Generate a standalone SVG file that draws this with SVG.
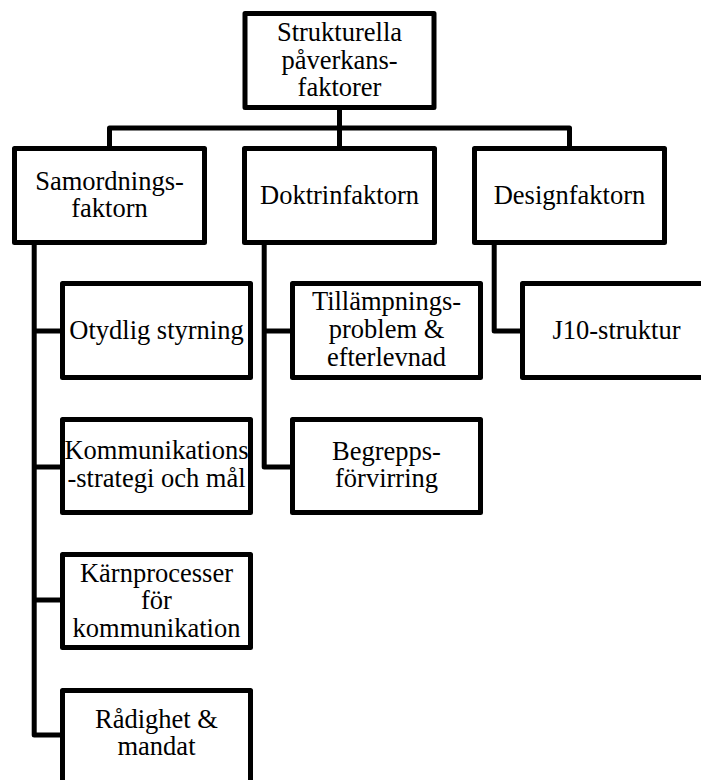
<svg xmlns="http://www.w3.org/2000/svg" width="701" height="780" viewBox="0 0 701 780">
<style>
.box{fill:#fff;stroke:#000;stroke-width:5;stroke-linejoin:round}
.ln{fill:none;stroke:#000;stroke-width:5;stroke-linejoin:round}
text{font-family:"Liberation Serif","Times New Roman",serif;font-size:26.5px;fill:#000;text-anchor:middle}
</style>
<rect width="701" height="780" fill="#fff"/>
<g id="connectors">
<path class="ln" d="M339.5 110 V148.5"/>
<path class="ln" d="M109.5 148.5 V128 H569.5 V148.5"/>
<path class="ln" d="M34.2 243 V735 H62.5"/>
<path class="ln" d="M34.2 331 H62.5"/>
<path class="ln" d="M34.2 467 H62.5"/>
<path class="ln" d="M34.2 600 H62.5"/>
<path class="ln" d="M264.2 243 V467 H292.5"/>
<path class="ln" d="M264.2 331 H292.5"/>
<path class="ln" d="M494.2 243 V331 H522.5"/>
</g>
<g id="n-root">
<rect class="box" x="245" y="13.5" width="189" height="94"/>
<text x="339.5" y="41">Strukturella</text>
<text x="339.5" y="68.5">påverkans-</text>
<text x="339.5" y="96">faktorer</text>
</g>
<g id="n-samordning">
<rect class="box" x="14.5" y="148.5" width="190" height="94"/>
<text x="109.5" y="190">Samordnings-</text>
<text x="109.5" y="217.3">faktorn</text>
</g>
<g id="n-doktrin">
<rect class="box" x="244.5" y="148.5" width="190" height="94"/>
<text x="339.5" y="204">Doktrinfaktorn</text>
</g>
<g id="n-design">
<rect class="box" x="474.5" y="148.5" width="190" height="94"/>
<text x="569.5" y="204">Designfaktorn</text>
</g>
<g id="n-otydlig">
<rect class="box" x="62.5" y="283.5" width="188" height="94"/>
<text x="156.5" y="339.3">Otydlig styrning</text>
</g>
<g id="n-kommunikation">
<rect class="box" x="62.5" y="419.5" width="188" height="93"/>
<text x="156.5" y="459.3">Kommunikations</text>
<text x="156.5" y="486.7">-strategi och mål</text>
</g>
<g id="n-karnprocesser">
<rect class="box" x="62.5" y="554.5" width="188" height="93"/>
<text x="156.5" y="581.7">Kärnprocesser</text>
<text x="156.5" y="609">för</text>
<text x="156.5" y="636.7">kommunikation</text>
</g>
<g id="n-radighet">
<rect class="box" x="62.5" y="690.5" width="188" height="94"/>
<text x="156.5" y="728.3">Rådighet &amp;</text>
<text x="156.5" y="755">mandat</text>
</g>
<g id="n-tillampning">
<rect class="box" x="292.5" y="283.5" width="188" height="94"/>
<text x="386.5" y="310">Tillämpnings-</text>
<text x="386.5" y="337.7">problem &amp;</text>
<text x="386.5" y="365.5">efterlevnad</text>
</g>
<g id="n-begrepp">
<rect class="box" x="292.5" y="419.5" width="188" height="93"/>
<text x="386.5" y="460">Begrepps-</text>
<text x="386.5" y="486.7">förvirring</text>
</g>
<g id="n-j10">
<rect class="box" x="522.5" y="283.5" width="188" height="94"/>
<text x="616.5" y="339">J10-struktur</text>
</g>
</svg>
